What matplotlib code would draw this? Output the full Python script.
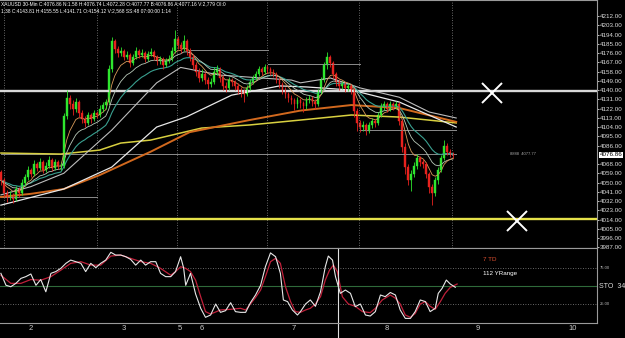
import numpy as np
import pandas as pd
import matplotlib
matplotlib.use('Agg')
import matplotlib.pyplot as plt
import matplotlib.transforms as mtrans

plt.rcParams['font.family'] = ['Liberation Sans', 'DejaVu Sans']

# ---- 30-min XAUUSD bars (open of each bar = previous close) ----
first_open = 4060
close = [4052, 4040, 4036, 4038, 4034, 4044, 4040, 4050, 4055, 4062,
         4058, 4068, 4064, 4070, 4062, 4066, 4072, 4064, 4070, 4066,
         4066, 4115, 4132, 4126, 4122, 4128, 4118, 4112, 4108, 4116,
         4112, 4118, 4116, 4122, 4125, 4128, 4160, 4188, 4180, 4176,
         4178, 4172, 4174, 4166, 4172, 4178, 4174, 4176, 4170, 4175,
         4177, 4172, 4168, 4170, 4164, 4168, 4170, 4178, 4190, 4184,
         4180, 4188, 4178, 4172, 4164, 4158, 4152, 4156, 4150, 4146,
         4148, 4158, 4160, 4152, 4144, 4142, 4150, 4148, 4144, 4140,
         4138, 4136, 4142, 4148, 4152, 4156, 4160, 4158, 4162, 4160,
         4158, 4156, 4150, 4146, 4140, 4136, 4132, 4130, 4126, 4130,
         4127, 4124, 4130, 4132, 4128, 4126, 4138, 4150, 4164, 4172,
         4166, 4156, 4148, 4144, 4146, 4142, 4144, 4140, 4120, 4108,
         4104, 4106, 4100, 4106, 4110, 4108, 4116, 4124, 4126, 4122,
         4126, 4124, 4126, 4110, 4085, 4065, 4052, 4058, 4066, 4074,
         4070, 4068, 4058, 4046, 4040, 4052, 4062, 4074, 4086, 4080,
         4078, 4076.86]
high = [4062, 4054, 4043, 4042, 4040, 4047, 4046, 4053, 4058, 4066,
        4064, 4072, 4070, 4074, 4072, 4070, 4076, 4074, 4073, 4072,
        4069, 4118, 4140, 4135, 4130, 4132, 4130, 4121, 4115, 4119,
        4118, 4121, 4120, 4125, 4128, 4131, 4164, 4192, 4190, 4183,
        4182, 4180, 4178, 4176, 4175, 4182, 4180, 4180, 4178, 4178,
        4181, 4179, 4174, 4173, 4172, 4171, 4174, 4182, 4198, 4193,
        4187, 4194, 4190, 4181, 4175, 4167, 4161, 4160, 4158, 4153,
        4152, 4162, 4164, 4162, 4155, 4148, 4153, 4152, 4150, 4147,
        4143, 4141, 4145, 4151, 4155, 4159, 4163, 4162, 4165, 4164,
        4162, 4160, 4158, 4152, 4148, 4143, 4138, 4135, 4132, 4133,
        4132, 4129, 4133, 4135, 4134, 4131, 4141, 4153, 4167, 4177,
        4174, 4168, 4158, 4151, 4149, 4148, 4147, 4146, 4142, 4123,
        4111, 4110, 4108, 4109, 4113, 4112, 4119, 4127, 4129, 4128,
        4129, 4128, 4129, 4128, 4112, 4088, 4068, 4062, 4070, 4078,
        4076, 4073, 4070, 4060, 4049, 4055, 4065, 4077, 4091, 4088,
        4083, 4080]
low = [4048, 4036, 4031, 4033, 4030, 4032, 4036, 4038, 4047, 4052,
       4055, 4056, 4061, 4062, 4059, 4060, 4064, 4061, 4062, 4063,
       4062, 4064, 4112, 4122, 4116, 4119, 4114, 4108, 4104, 4106,
       4108, 4110, 4113, 4114, 4119, 4122, 4126, 4158, 4176, 4172,
       4173, 4169, 4170, 4162, 4164, 4170, 4171, 4172, 4167, 4168,
       4173, 4169, 4164, 4165, 4160, 4162, 4166, 4168, 4176, 4180,
       4176, 4178, 4174, 4168, 4160, 4154, 4148, 4149, 4146, 4141,
       4143, 4146, 4155, 4148, 4140, 4138, 4140, 4144, 4140, 4136,
       4133, 4128, 4134, 4140, 4146, 4150, 4154, 4155, 4156, 4157,
       4155, 4153, 4147, 4142, 4136, 4132, 4128, 4126, 4121, 4123,
       4123, 4119, 4122, 4127, 4124, 4122, 4124, 4136, 4148, 4160,
       4162, 4152, 4144, 4140, 4141, 4138, 4139, 4136, 4114, 4100,
       4099, 4100, 4096, 4098, 4103, 4104, 4106, 4114, 4121, 4119,
       4120, 4121, 4122, 4106, 4080, 4058, 4048, 4042, 4055, 4063,
       4066, 4064, 4054, 4040, 4028, 4037, 4049, 4060, 4072, 4077,
       4075, 4074]

# slow averages (they carry history from before the window), (bar, price)
ma_yellow = [(0, 4078.7), (20, 4077.7), (33, 4081.6), (40, 4088.4), (50, 4091.3),
             (67, 4103), (83, 4106), (100, 4110.8), (117, 4115.7), (133, 4113.7), (152, 4108)]
ma_orange = [(0, 4036), (10, 4039), (21, 4043.7), (33, 4057.3), (50, 4080), (63, 4099),
             (83, 4110.8), (100, 4120), (117, 4125.4), (133, 4122.5), (152, 4109)]
ma_white_slow = [(0, 4028), (21, 4043.7), (37, 4065), (52, 4104), (62, 4114), (77, 4135),
                 (93, 4144), (102, 4143), (117, 4140), (133, 4128.3), (152, 4104)]
ma_white_mid = [(0, 4038), (10, 4046), (21, 4059), (37, 4101), (52, 4147), (60, 4162),
                (73, 4154.6), (87, 4151.7), (97, 4149.7), (100, 4147), (110, 4151.7),
                (120, 4142), (133, 4133), (143, 4118.6), (152, 4112.8)]

# drawn levels and segments
level_white = 4139
level_yellow = 4014.5
segments = [(4178.9, 63.3, 89.3), (4165.3, 89.3, 120), (4126.4, 36, 58.3),
            (4077.5, 0, 152), (4101, 120, 152), (4036, 0, 32)]
cross_t = [164, 172.3]
cross_p = [4137, 4012.5]
session_lines = [1, 32, 58.7, 89, 119.7, 150.7]
cursor_bar = 112.7

# stochastic (bar, value)
sto_k = [(0, 67.6), (1.7, 51), (3.3, 49), (5, 53.7), (6.7, 60.6), (8.3, 63), (10, 66.7),
         (11.7, 51), (13.3, 59), (15, 42), (16.7, 67.6), (18.3, 70), (20, 74.5), (21.7, 81.5),
         (23.3, 86), (25, 83.8), (26.7, 81.5), (28.3, 70), (30, 81.5), (31.7, 75.5), (33.3, 81.5),
         (35, 86), (36.7, 96.8), (38.3, 93), (40, 93), (41.7, 90.7), (43.3, 87), (45, 79),
         (46.7, 86), (48.3, 79), (50, 83.8), (51.7, 83.8), (53.3, 67.6), (55, 63), (56.7, 63),
         (58.3, 70), (60, 90.7), (61, 75), (61.7, 51), (63.3, 67.6), (65, 38.9), (66.7, 19),
         (68.3, 6.5), (70, 9.7), (71.7, 25), (73.3, 13.4), (75, 15.7), (76.7, 26.8), (78.3, 14.4),
         (80, 13.4), (81.7, 13.4), (83.3, 26.8), (85, 37.5), (86.7, 51), (88.3, 76.8), (90, 96),
         (91.7, 90.7), (93.3, 67.6), (94.3, 30.6), (95.7, 28.3), (97.3, 16.7), (99, 9.7),
         (100, 14.4), (101.7, 25), (103.3, 30.6), (105, 21.8), (106.7, 42), (108.3, 76.8),
         (109.3, 91.6), (110.7, 86), (111.7, 63), (113.3, 39.8), (115, 44.4), (116.7, 39.8),
         (118.3, 21.3), (120, 25), (121.7, 9.7), (123.3, 8.3), (125, 14.4), (126.7, 37.5),
         (128.3, 35.2), (130, 41), (131.7, 37.5), (133.3, 16.7), (135, 5), (136.7, 5),
         (138.3, 14.4), (140, 30.6), (141.7, 28.3), (143.3, 14.4), (145, 19), (146, 39.8),
         (147.3, 46.8), (148.7, 58.3), (150, 52.8), (151.7, 48.2)]
sto_d = [(0, 65), (3.3, 53.7), (6.7, 53.7), (10, 59), (13.3, 58), (16.7, 63), (20, 72),
         (23.3, 81.5), (26.7, 83.8), (30, 79), (33.3, 79), (36.7, 91.6), (40, 93), (43.3, 88.4),
         (46.7, 83.8), (50, 81.5), (53.3, 74.5), (56.7, 65), (58.3, 70), (60, 76.8), (61.7, 74.5),
         (63.3, 70), (65, 58), (66.7, 35), (68.3, 14.4), (70, 11), (73.3, 16.7), (76.7, 17.6),
         (80, 19), (81.7, 16.7), (83.3, 25), (85, 34), (86.7, 44.4), (88.3, 63), (90, 83.8),
         (91.7, 88.4), (93.3, 81.5), (95, 49), (96.7, 28.3), (98.3, 14.4), (100, 13.4),
         (101.7, 16.7), (103.3, 19), (105, 25), (106.7, 35.2), (108.3, 58.3), (109.7, 72),
         (111, 79), (112.3, 70), (114, 35), (116, 25), (118.3, 21.8), (120.7, 14.4), (123.3, 13),
         (125, 19), (127.3, 30.6), (130, 37.5), (131.7, 33), (133.3, 25), (135, 9.7), (136.7, 6.5),
         (138.3, 11.8), (140, 25), (141.7, 28.3), (143.3, 21.8), (145, 17.6), (146.7, 28.3),
         (148.3, 39.8), (150, 48), (152.3, 52.8)]

day_ticks = [10, 41, 59.7, 67, 97.7, 128.7, 159.3, 191]
day_labels = ['2', '3', '5', '6', '7', '8', '9', '10']

header1 = ('XAUUSD 30-Min C:4076.86 N:1.58 H:4076.74 L:4072.28 O:4077.77 '
           'B:4076.86 A:4077.16 V:2,779 OI:0')
header2 = '1.38 C:4143.81 H:4155.55 L:4141.71 O:4154.12 V:2,568 SS:48 07:00:00 1:14'

# ---------------------------------------------------------------
W, H = 625, 338
fig = plt.figure(figsize=(W / 100, H / 100), dpi=100, facecolor='black')
ax = fig.add_axes([0, 1 - 248 / H, 597 / W, 248 / H])
ax2 = fig.add_axes([0, 1 - 323 / H, 597 / W, 75 / H], sharex=ax)

grid_col = '#9a9a9a'
for a in (ax, ax2):
    a.set_facecolor('black')
    for s in a.spines.values():
        s.set_color(grid_col)
        s.set_linewidth(0.8)
    a.spines['left'].set_visible(False)

c = np.array(close, dtype=float)
o = np.r_[first_open, c[:-1]]
t = np.arange(len(c))
up = c >= o
cols = np.where(up, '#2ee62e', '#e8221e')

for x in session_lines:
    ax.axvline(x, color='#8a8a8a', lw=0.6, ls=(0, (1, 2)))

ax.axhline(level_white, color='#d8d8d8', lw=1.7)
ax.axhline(level_yellow, color='#e6e24a', lw=1.7)
for p, x0, x1 in segments:
    ax.plot([x0, x1], [p, p], color='#8c8c8c', lw=0.7)

def draw_ma(pts, color, lw):
    mt, mv = zip(*pts)
    ax.plot(mt, mv, color=color, lw=lw)

draw_ma(ma_yellow, '#d8d040', 1.1)
draw_ma(ma_orange, '#d2691e', 1.4)
draw_ma(ma_white_slow, '#e8e8e8', 0.9)
draw_ma(ma_white_mid, '#bdbdbd', 0.8)

cs = pd.Series(c)
ax.plot(t, cs.ewm(span=21, adjust=False).mean(), color='#3aa090', lw=0.8)
ax.plot(t, cs.ewm(span=13, adjust=False).mean(), color='#b8c8b8', lw=0.6)
ax.plot(t, cs.ewm(span=7, adjust=False).mean(), color='#d89a5a', lw=0.6)

ax.vlines(t, low, high, colors=cols, lw=0.6)
ax.bar(t, np.abs(c - o), bottom=np.minimum(o, c), width=0.62, color=cols,
       edgecolor=cols, linewidth=0.3)

ax.plot(cross_t, cross_p, ls='none', marker='x', ms=15, mew=1.4, color='white')
ax.text(170, 4078, '8888  4077.77', color='#aaaaaa', fontsize=3, va='center')

ax.set_xlim(-0.3, 199)
ax.set_ylim(3986.3, 4227.6)
ax.yaxis.tick_right()
yt = [v for v in np.arange(3987, 4213, 9) if v != 4077]
ax.set_yticks(yt)
ax.set_yticklabels(['%.2f' % v for v in yt])
ax.tick_params(axis='y', colors='#dddddd', labelsize=4.5, length=1.5, pad=0.6, width=0.6)
ax.tick_params(axis='x', bottom=False, labelbottom=False)
blend = mtrans.blended_transform_factory(ax.transAxes, ax.transData)
ax.text(1.004, close[-1], '%.2f' % close[-1], transform=blend, fontsize=4.5, color='black',
        va='center', ha='left',
        bbox=dict(boxstyle='square,pad=0.1', fc='white', ec='none'))

# ---- stochastic panel ----
ax2.axhline(75, color='#8a8a8a', lw=0.6, ls=(0, (1, 2)))
ax2.axhline(25, color='#8a8a8a', lw=0.6, ls=(0, (1, 2)))
ax2.axhline(50, color='#2f6a3a', lw=0.8)
kt, kv = zip(*sto_k)
dt, dv = zip(*sto_d)
ax2.plot(dt, dv, color='#c0203a', lw=0.9)
ax2.plot(kt, kv, color='#e8e8e8', lw=0.8)
ax2.axvline(cursor_bar, ymin=-0.3, ymax=1, color='#e0e0e0', lw=0.8, clip_on=False)
ax2.text(161, 87.5, '7 TD', color='#e05030', fontsize=4.5, va='center')
ax2.text(161, 66.7, '112 YRange', color='white', fontsize=4.5, va='center')
blend2 = mtrans.blended_transform_factory(ax2.transAxes, ax2.transData)
ax2.text(1.005, 75, '75.00', transform=blend2, color='#bbbbbb', fontsize=3, va='center')
ax2.text(1.005, 25, '25.00', transform=blend2, color='#bbbbbb', fontsize=3, va='center')
ax2.text(1.004, 49, 'STO  34', transform=blend2, color='#dddddd', fontsize=5, va='center')
ax2.set_ylim(-1.4, 102.8)
ax2.set_yticks([])
ax2.set_xticks(day_ticks)
ax2.set_xticklabels(day_labels)
ax2.tick_params(axis='x', colors='#cccccc', labelsize=5.5, length=0, pad=1.5)

fig.text(0.002, 1 - 4 / H, header1, color='white', fontsize=3.5, va='center')
fig.text(0.002, 1 - 11 / H, header2, color='white', fontsize=3.5, va='center')

fig.savefig('out.png', dpi=100, facecolor='black')
